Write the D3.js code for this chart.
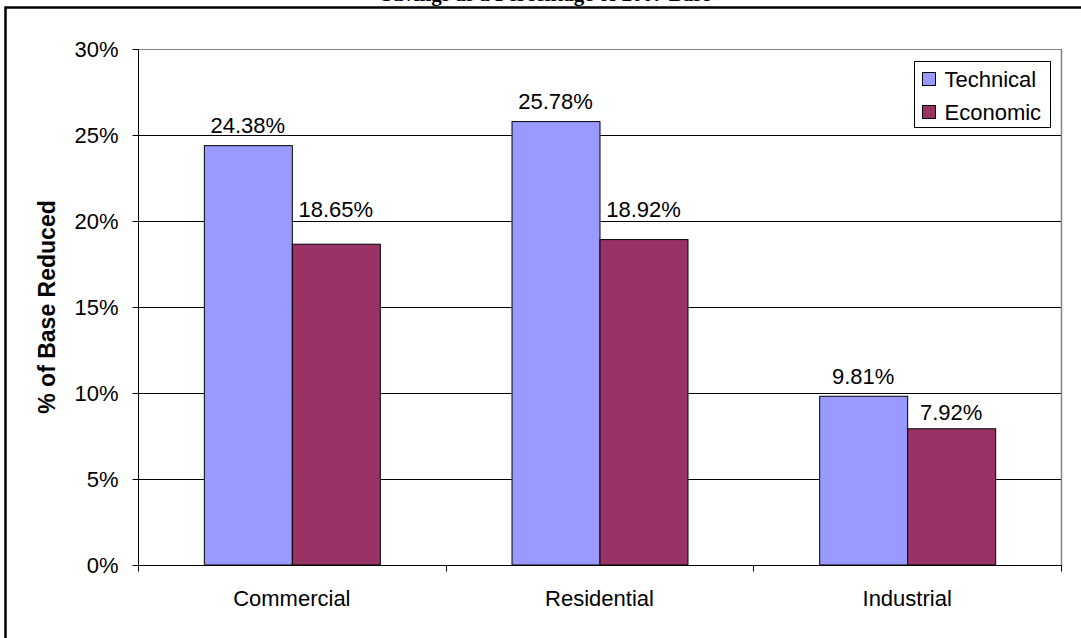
<!DOCTYPE html>
<html><head><meta charset="utf-8">
<script src="https://cdn.jsdelivr.net/npm/d3@7"></script>
<style>html,body{margin:0;padding:0;background:#fff;overflow:hidden}</style>
</head><body>
<svg id="c" width="1081" height="638"></svg>
<script>
const categories = ["Commercial", "Residential", "Industrial"];
const seriesNames = ["Technical", "Economic"];
const technical = [24.38, 25.78, 9.81];
const economic = [18.65, 18.92, 7.92];
const yTicks = [0, 5, 10, 15, 20, 25, 30];
const colors = ["#9999FF", "#993366"];
const titleText = "Savings as a Percentage of 2007 Base";
const yTitle = "% of Base Reduced";

const svg = d3.select("#c");
const font = "Arial, 'Liberation Sans', sans-serif";
const L = 138, R = 1061, T = 49, B = 565;
const FS = 22;

// outer frame
svg.append("rect").attr("x", 5.5).attr("y", 7.5).attr("width", 1200).attr("height", 800)
  .attr("fill", "none").attr("stroke", "#000").attr("stroke-width", 2.5);
// title (clipped at top as in reference)
svg.append("text").attr("x", 546).attr("y", 1).attr("text-anchor", "middle")
  .attr("font-family", "'Liberation Serif', 'Times New Roman', serif").attr("font-weight", "bold")
  .attr("font-size", 21).text(titleText);

const x = d3.scaleBand().domain(categories).range([L, R]).paddingInner(0.428).paddingOuter(0.214);
const xs = d3.scaleBand().domain(seriesNames).range([0, x.bandwidth()]);
const y = d3.scaleLinear().domain([0, 30]).range([B, T]);

// gridlines
svg.append("g").selectAll("line").data(yTicks.filter(d => d > 0)).join("line")
  .attr("x1", L).attr("x2", R).attr("y1", d => Math.round(y(d)) + 0.5).attr("y2", d => Math.round(y(d)) + 0.5)
  .attr("stroke", d => d === 30 ? "#808080" : "#000").attr("stroke-width", 1);
// plot-area right border
svg.append("line").attr("x1", R + 0.5).attr("x2", R + 0.5).attr("y1", T).attr("y2", B)
  .attr("stroke", "#808080").attr("stroke-width", 1.5);

// bars
const data = categories.map((c, i) => ({c, vals: [technical[i], economic[i]]}));
const groups = svg.append("g").selectAll("g").data(data).join("g")
  .attr("transform", d => `translate(${x(d.c)},0)`);
groups.selectAll("rect").data(d => d.vals.map((v, j) => ({s: seriesNames[j], v, j}))).join("rect")
  .attr("x", d => xs(d.s) + 0.5).attr("y", d => y(d.v)).attr("width", xs.bandwidth())
  .attr("height", d => B - y(d.v)).attr("fill", d => colors[d.j])
  .attr("stroke", "#000").attr("stroke-width", 1);

// value labels (lift above bar tops as placed in reference)
const lift = [[13, 13, 12], [27, 23, 9]];
groups.each(function(d, i) {
  d3.select(this).selectAll("text").data(d.vals.map((v, j) => ({s: seriesNames[j], v, j}))).join("text")
    .attr("x", e => xs(e.s) + xs.bandwidth() / 2).attr("y", e => y(e.v) - lift[e.j][i])
    .attr("text-anchor", "middle").attr("font-family", font).attr("font-size", FS)
    .text(e => e.v.toFixed(2) + "%");
});

// y axis
const yAxis = svg.append("g").attr("transform", `translate(${L + 0.5},0)`)
  .call(d3.axisLeft(y).tickValues(yTicks).tickSize(6).tickPadding(14).tickFormat(d => d + "%"));
yAxis.select(".domain").attr("stroke", "#000").attr("d", `M0,${T}V${B + 6}`);
yAxis.selectAll(".tick line").attr("stroke", "#000");
yAxis.selectAll("text").attr("font-family", font).attr("font-size", FS).attr("fill", "#000");

// x axis
const xAxis = svg.append("g").attr("transform", `translate(0,${B + 0.5})`)
  .call(d3.axisBottom(x).tickSize(0).tickPadding(25));
xAxis.select(".domain").attr("stroke", "#000").attr("d", `M${L},0H${R + 1}`);
xAxis.selectAll("text").attr("font-family", font).attr("font-size", FS).attr("fill", "#000");
const bounds = [L, ...categories.map(c => x(c) + x.bandwidth() + x.step() * x.paddingInner() / 2)];
bounds[bounds.length - 1] = R;
xAxis.selectAll("line.sep").data(bounds).join("line").attr("class", "sep")
  .attr("x1", d => Math.round(d) + 0.5).attr("x2", d => Math.round(d) + 0.5).attr("y1", 0).attr("y2", 6)
  .attr("stroke", "#000");

// y title
svg.append("text").attr("transform", "translate(55,307) rotate(-90)").attr("text-anchor", "middle")
  .attr("font-family", font).attr("font-weight", "bold").attr("font-size", 23).text(yTitle);

// legend
const lg = svg.append("g").attr("transform", "translate(914.5,61.5)");
lg.append("rect").attr("width", 136).attr("height", 66).attr("fill", "#fff").attr("stroke", "#000").attr("stroke-width", 1);
seriesNames.forEach((s, j) => {
  const yy = 17 + j * 33;
  lg.append("rect").attr("x", 8).attr("y", yy - 6).attr("width", 13).attr("height", 13)
    .attr("fill", colors[j]).attr("stroke", "#000").attr("stroke-width", 1);
  lg.append("text").attr("x", 30).attr("y", yy + 8).attr("font-family", font).attr("font-size", FS).text(s);
});
</script>
</body></html>
